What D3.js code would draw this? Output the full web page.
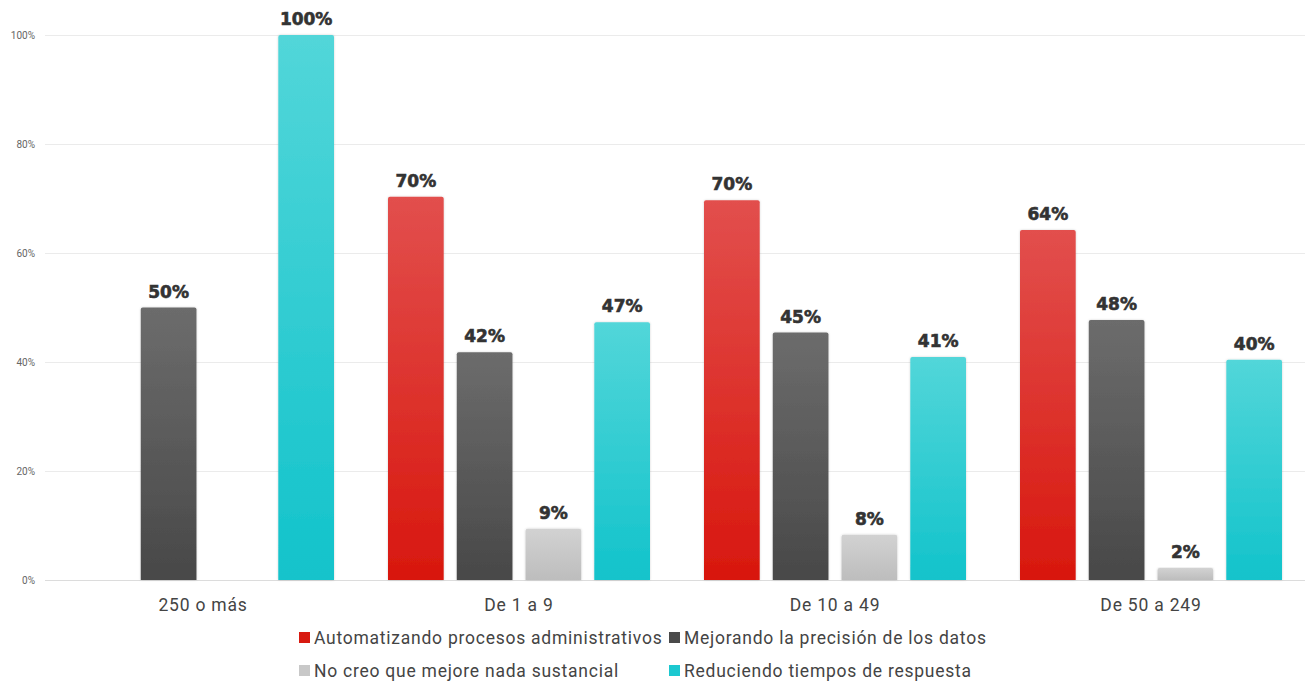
<!DOCTYPE html>
<html>
<head>
<meta charset="utf-8">
<script src="https://cdn.jsdelivr.net/npm/d3@7/dist/d3.min.js"></script>
<style>
  html, body { margin: 0; padding: 0; background: #fff; }
  svg { display: block; }
</style>
</head>
<body>
<svg id="chart" width="1305" height="682"></svg>
<script>
// Company-size groups on the x axis
const categories = ["250 o más", "De 1 a 9", "De 10 a 49", "De 50 a 249"];
// One series per answer option (percent of respondents)
const seriesNames = [
  "Automatizando procesos administrativos",
  "Mejorando la precisión de los datos",
  "No creo que mejore nada sustancial",
  "Reduciendo tiempos de respuesta"
];
const automatizando = [0, 70.3, 69.7, 64.2];
const mejorando     = [50, 41.8, 45.4, 47.7];
const noCreo        = [0, 9.4, 8.3, 2.2];
const reduciendo    = [100, 47.3, 40.9, 40.4];
const yTicks = [0, 20, 40, 60, 80, 100];

const seriesValues = [automatizando, mejorando, noCreo, reduciendo];
const gradStops = [
  ["#e24f4d", "#d8170e"],
  ["#6c6c6c", "#484848"],
  ["#d2d2d2", "#bdbdbd"],
  ["#52d6d9", "#12c3cb"]
];
const legendColors = ["#d81a10", "#4a4a4a", "#c8c8c8", "#1cc8d0"];

const svg = d3.select("#chart");
const margin = { top: 35, left: 45, right: -4, bottom: 102 };
const W = 1305, H = 682;
const x = d3.scaleBand().domain(categories).range([margin.left, W - margin.right]).paddingInner(0).paddingOuter(0);
const xs = d3.scaleBand().domain(d3.range(4)).range([27, x.bandwidth() - 27]).paddingInner(0.19).paddingOuter(0);
const y = d3.scaleLinear().domain([0, 100]).range([H - margin.bottom, margin.top]);

const defs = svg.append("defs");
gradStops.forEach((s, i) => {
  const g = defs.append("linearGradient").attr("id", "g" + i)
    .attr("x1", 0).attr("y1", 0).attr("x2", 0).attr("y2", 1);
  g.append("stop").attr("offset", "0%").attr("stop-color", s[0]);
  g.append("stop").attr("offset", "100%").attr("stop-color", s[1]);
});
const f = defs.append("filter").attr("id", "sh").attr("x", "-20%").attr("y", "-5%").attr("width", "140%").attr("height", "110%");
f.append("feDropShadow").attr("dx", 0).attr("dy", 0).attr("stdDeviation", 1.2).attr("flood-color", "#000").attr("flood-opacity", 0.18);

// Gridlines and y tick labels
const yAxis = svg.append("g").attr("transform", `translate(${margin.left},0)`)
  .call(d3.axisLeft(y).tickValues(yTicks).tickFormat(d => d + "%").tickSize(-(W - margin.left)).tickPadding(10));
yAxis.select(".domain").remove();
yAxis.selectAll(".tick line").attr("stroke", d => d === 0 ? "#dcdcdc" : "#ebebeb").attr("stroke-width", 1);
yAxis.selectAll(".tick text").attr("fill", "#666").attr("font-family", "Roboto, sans-serif").attr("font-size", 10);

// Bars
const groups = svg.append("g").selectAll("g").data(categories).join("g")
  .attr("transform", d => `translate(${x(d)},0)`);

groups.each(function(cat, ci) {
  const g = d3.select(this);
  seriesValues.forEach((vals, si) => {
    const v = vals[ci];
    if (v <= 0) return;
    const bx = xs(si), bw = xs.bandwidth();
    const top = y(v), bottom = y(0);
    const r = 2;
    g.append("path")
      .attr("d", `M${bx},${bottom} V${top + r} Q${bx},${top} ${bx + r},${top} H${bx + bw - r} Q${bx + bw},${top} ${bx + bw},${top + r} V${bottom} Z`)
      .attr("fill", `url(#g${si})`)
      .attr("filter", "url(#sh)");
    g.append("text")
      .attr("x", bx + bw / 2).attr("y", top - 10)
      .attr("text-anchor", "middle")
      .attr("font-family", "'DejaVu Sans', sans-serif").attr("font-weight", 700)
      .attr("font-size", 17).attr("fill", "#333")
      .attr("stroke", "#333").attr("stroke-width", 0.6)
      .text(Math.round(v) + "%");
  });
});

// Category labels
const xAxis = svg.append("g").attr("transform", `translate(0,${y(0)})`)
  .call(d3.axisBottom(x).tickSize(0).tickPadding(19));
xAxis.select(".domain").remove();
xAxis.selectAll(".tick text").attr("fill", "#444").attr("font-family", "Roboto, sans-serif")
  .attr("font-size", 17.5).attr("letter-spacing", "0.8px");

// Legend, two columns by two rows
const legendPos = [[299, 638], [669, 638], [299, 671], [669, 671]];
const lg = svg.append("g").selectAll("g").data(seriesNames).join("g")
  .attr("transform", (d, i) => `translate(${legendPos[i][0]},${legendPos[i][1]})`);
lg.append("rect").attr("x", 0).attr("y", -6).attr("width", 11).attr("height", 11)
  .attr("fill", (d, i) => legendColors[i]);
lg.append("text").attr("x", 15).attr("y", 0).attr("dy", "0.35em")
  .attr("font-family", "Roboto, sans-serif").attr("font-size", 17.5).attr("letter-spacing", "0.75px").attr("fill", "#444")
  .text(d => d);
</script>
</body>
</html>
